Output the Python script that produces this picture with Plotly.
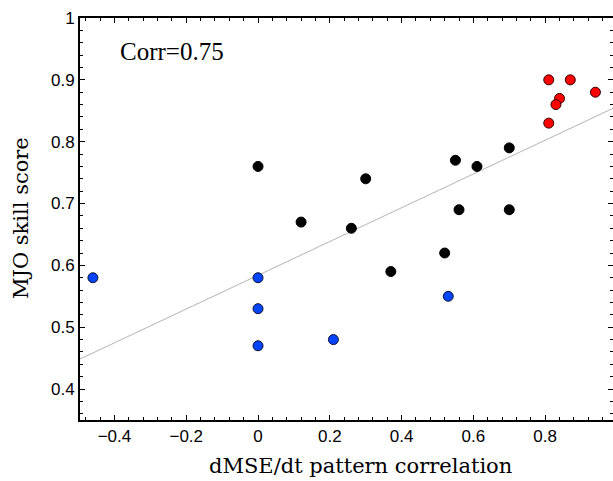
import numpy as np
import plotly.graph_objects as go

# Data
black_x = [0.00, 0.12, 0.26, 0.30, 0.37, 0.52, 0.55, 0.56, 0.61, 0.70, 0.70]
black_y = [0.76, 0.67, 0.66, 0.74, 0.59, 0.62, 0.77, 0.69, 0.76, 0.79, 0.69]
blue_x = [-0.46, 0.00, 0.00, 0.00, 0.21, 0.53]
blue_y = [0.58, 0.58, 0.53, 0.47, 0.48, 0.55]
red_x = [0.81, 0.87, 0.94, 0.84, 0.83, 0.81]
red_y = [0.90, 0.90, 0.88, 0.87, 0.86, 0.83]
fit_intercept = 0.584
fit_slope = 0.273
corr_label = "Corr=0.75"

x_range = [-0.496, 0.989]
y_range = [0.35, 1.0]

fig = go.Figure()

line_x = np.array(x_range)
fig.add_trace(go.Scatter(x=line_x, y=fit_intercept + fit_slope * line_x, mode="lines",
                         line=dict(color="#b4b4b4", width=1), hoverinfo="skip", showlegend=False))

fig.add_trace(go.Scatter(x=black_x, y=black_y, mode="markers", showlegend=False,
                         marker=dict(size=10, color="black", line=dict(color="black", width=1))))
fig.add_trace(go.Scatter(x=blue_x, y=blue_y, mode="markers", showlegend=False,
                         marker=dict(size=10, color="#0044ff", line=dict(color="#101030", width=1))))
fig.add_trace(go.Scatter(x=red_x, y=red_y, mode="markers", showlegend=False,
                         marker=dict(size=10, color="#ff0000", line=dict(color="#300000", width=1))))

# dummy trace for right-side mirrored ticks
fig.add_trace(go.Scatter(x=[None], y=[None], yaxis="y2", showlegend=False, hoverinfo="skip"))

tickfont = dict(family="Liberation Sans, Arial", size=17, color="black")

fig.update_layout(
    width=613, height=481,
    margin=dict(l=80, r=0, t=18, b=61, autoexpand=False),
    paper_bgcolor="white", plot_bgcolor="white",
    xaxis=dict(range=x_range, showgrid=False, zeroline=False, automargin=False,
               showline=True, linecolor="black", linewidth=2, mirror="ticks",
               ticks="inside", ticklen=5, tickwidth=1, tickcolor="black",
               tick0=0, dtick=0.2, tickfont=tickfont, tickformat="~g",
               minor=dict(ticks="inside", ticklen=3, dtick=0.04, tick0=0, tickcolor="black", showgrid=False)),
    yaxis=dict(range=y_range, showgrid=False, zeroline=False, automargin=False,
               showline=True, linecolor="black", linewidth=2, mirror=False,
               ticks="inside", ticklen=5, tickwidth=1, tickcolor="black",
               tick0=0, dtick=0.1, tickfont=tickfont, tickformat="~g",
               minor=dict(ticks="inside", ticklen=3, dtick=0.02, tick0=0, tickcolor="black", showgrid=False)),
    yaxis2=dict(range=y_range, overlaying="y", side="right", showgrid=False, zeroline=False,
                automargin=False, showline=False, ticks="inside", ticklen=5, tickwidth=1, tickcolor="black",
                tick0=0, dtick=0.1, showticklabels=False,
                minor=dict(ticks="inside", ticklen=3, dtick=0.02, tick0=0, tickcolor="black", showgrid=False)),
    annotations=[
        dict(text=corr_label, xref="paper", yref="paper", x=(118 - 80) / 533, y=(420 - 52) / 402,
             xanchor="left", yanchor="middle", showarrow=False,
             font=dict(family="Liberation Serif, Times New Roman", size=25, color="black")),
        dict(text="dMSE/dt pattern correlation", xref="paper", yref="paper",
             x=(360 - 80) / 533, y=(420 - 466) / 402, xanchor="center", yanchor="middle",
             showarrow=False, font=dict(family="DejaVu Serif", size=21, color="black")),
        dict(text="MJO skill score", xref="paper", yref="paper",
             x=(21 - 80) / 533, y=(420 - 218) / 402, xanchor="center", yanchor="middle",
             textangle=-90, showarrow=False, font=dict(family="DejaVu Serif", size=21, color="black")),
    ],
)

fig.write_html("out.html", config={"displayModeBar": False},
               post_script="document.body.style.margin='0px';document.body.style.overflow='hidden';")
